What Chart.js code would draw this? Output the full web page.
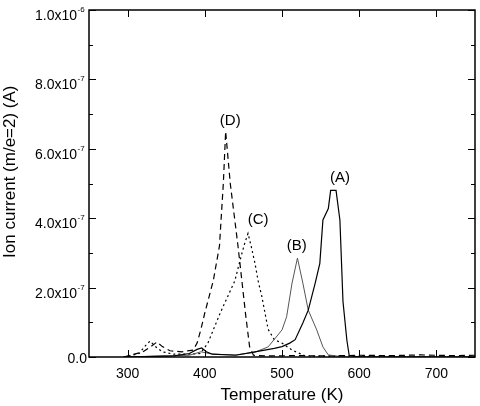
<!DOCTYPE html>
<html>
<head>
<meta charset="utf-8">
<script src="https://cdn.jsdelivr.net/npm/chart.js@4"></script>
<style>
  body { margin: 0; background: #fff; }
</style>
</head>
<body>
<canvas id="chart" width="480" height="406"></canvas>
<script>
// TPD curves, m/e=2 ion current vs temperature
const tempA = [295, 360, 380, 390, 396, 402, 410, 440, 465, 490, 500, 510, 517, 527, 534, 543, 549, 553, 560, 563, 570, 575, 579, 584, 587, 600, 750];
const ionA  = [0, 3e-9, 1e-8, 2.2e-8, 2.6e-8, 1.5e-8, 8e-9, 5e-9, 1.5e-8, 2.5e-8, 3e-8, 4e-8, 5e-8, 9.8e-8, 1.35e-7, 2.13e-7, 2.7e-7, 3.95e-7, 4.28e-7, 4.8e-7, 4.8e-7, 3.95e-7, 1.6e-7, 4.9e-8, 5e-9, 0, 0];

const tempB = [295, 380, 395, 410, 440, 465, 482, 500, 506, 513, 520, 527, 534, 545, 553, 560, 580, 750];
const ionB  = [0, 5e-9, 1.5e-8, 8e-9, 6e-9, 1.4e-8, 2.9e-8, 7.8e-8, 1.16e-7, 2.13e-7, 2.85e-7, 2.13e-7, 1.35e-7, 7.8e-8, 2.9e-8, 6e-9, 0, 0];

const tempC = [295, 315, 322, 329, 336, 345, 360, 380, 394, 404, 420, 439, 447, 452, 456, 460, 465, 469, 474, 482, 490, 500, 513, 530, 750];
const ionC  = [0, 1e-8, 3e-8, 4.6e-8, 3e-8, 1.5e-8, 8e-9, 8e-9, 1e-8, 4e-8, 1.27e-7, 2.2e-7, 2.9e-7, 3.3e-7, 3.56e-7, 3.2e-7, 2.7e-7, 2.2e-7, 1.73e-7, 8e-8, 5e-8, 4e-8, 2e-8, 3e-9, 0];

const tempD = [295, 320, 330, 338, 345, 355, 370, 385, 390, 395, 400, 411, 419, 424, 427, 433, 443, 448, 453, 458, 463, 480, 520, 560, 600, 640, 680, 720, 750];
const ionD  = [0, 1.5e-8, 3e-8, 4.3e-8, 3e-8, 1.8e-8, 1.5e-8, 2e-8, 4e-8, 8e-8, 1.27e-7, 2.2e-7, 3.2e-7, 5e-7, 6.5e-7, 5e-7, 3.2e-7, 2.2e-7, 1.2e-7, 3e-8, 5e-9, 3e-9, 4e-9, 3e-9, 5e-9, 4e-9, 6e-9, 4e-9, 5e-9];

const xTicks = [300, 400, 500, 600, 700];

// curve labels: text, temperature, current
const peakLabels = ['(A)', '(B)', '(C)', '(D)'];
const labelTemps = [575, 519, 469, 433];
const labelIons  = [5.16e-7, 3.2e-7, 3.95e-7, 6.8e-7];

const FONT = '"Liberation Sans", Arial, sans-serif';

function pts(xs, ys) {
  return xs.map((t, i) => ({ x: t, y: ys[i] }));
}

// frame, inward ticks, y tick labels with superscripts, peak labels
const decor = {
  id: 'decor',
  afterDraw(chart) {
    const { ctx, chartArea: { left, right, top, bottom }, scales: { x, y } } = chart;
    ctx.save();
    ctx.strokeStyle = '#000';
    ctx.lineWidth = 1.5;
    ctx.strokeRect(left, top, right - left, bottom - top);

    ctx.lineWidth = 1;
    ctx.beginPath();
    x.ticks.forEach(t => {
      const px = Math.round(x.getPixelForValue(t.value)) + 0.5;
      ctx.moveTo(px, bottom); ctx.lineTo(px, bottom - 7);
      ctx.moveTo(px, top); ctx.lineTo(px, top + 7);
    });
    y.ticks.forEach(t => {
      const py = Math.round(y.getPixelForValue(t.value)) + 0.5;
      ctx.moveTo(left, py); ctx.lineTo(left + 7, py);
      ctx.moveTo(right, py); ctx.lineTo(right - 7, py);
      const mv = t.value + 1e-7;
      if (mv < y.max) {
        const pm = Math.round(y.getPixelForValue(mv)) + 0.5;
        ctx.moveTo(left, pm); ctx.lineTo(left + 4, pm);
        ctx.moveTo(right, pm); ctx.lineTo(right - 4, pm);
      }
    });
    ctx.stroke();

    ctx.fillStyle = '#000';
    ctx.textBaseline = 'alphabetic';
    y.ticks.forEach(t => {
      const py = y.getPixelForValue(t.value);
      if (Math.abs(t.value) < 1e-12) {
        ctx.font = '14px ' + FONT;
        ctx.textAlign = 'right';
        ctx.fillText('0.0', left - 2, py + 6);
        return;
      }
      const [m, e] = t.value.toExponential(1).split('e');
      ctx.font = '14px ' + FONT;
      ctx.textAlign = 'right';
      ctx.fillText(m + 'x10', left - 12, py + 10);
      ctx.font = '8px ' + FONT;
      ctx.textAlign = 'left';
      ctx.fillText(String(parseInt(e, 10)), left - 11.5, py + 2);
    });

    ctx.font = '15px ' + FONT;
    ctx.textAlign = 'center';
    ctx.textBaseline = 'middle';
    peakLabels.forEach((txt, i) => {
      ctx.fillText(txt, x.getPixelForValue(labelTemps[i]), y.getPixelForValue(labelIons[i]));
    });
    ctx.restore();
  }
};

new Chart(document.getElementById('chart').getContext('2d'), {
  type: 'line',
  data: {
    datasets: [
      { data: pts(tempA, ionA), borderColor: '#000', borderWidth: 1.2 },
      { data: pts(tempB, ionB), borderColor: '#555', borderWidth: 1 },
      { data: pts(tempC, ionC), borderColor: '#000', borderWidth: 1.2, borderDash: [2, 3] },
      { data: pts(tempD, ionD), borderColor: '#000', borderWidth: 1.2, borderDash: [6, 4] }
    ]
  },
  options: {
    responsive: false,
    animation: false,
    devicePixelRatio: 1,
    layout: { padding: { top: 10, right: 5, left: 0, bottom: 0 } },
    elements: { point: { radius: 0 }, line: { tension: 0, fill: false } },
    plugins: { legend: { display: false }, tooltip: { enabled: false } },
    scales: {
      x: {
        type: 'linear',
        min: 250,
        max: 750,
        afterBuildTicks: s => { s.ticks = xTicks.map(v => ({ value: v })); },
        afterFit: s => { s.height = 49; },
        grid: { display: false },
        border: { display: false },
        ticks: { padding: 1, color: '#000', font: { family: FONT, size: 14 } },
        title: { display: true, text: 'Temperature (K)', color: '#000', padding: 0, font: { family: FONT, size: 17 } }
      },
      y: {
        type: 'linear',
        min: 0,
        max: 1e-6,
        afterFit: s => { s.width = 89; },
        grid: { display: false },
        border: { display: false },
        ticks: { stepSize: 2e-7, display: false },
        title: { display: true, text: '     Ion current (m/e=2) (A)', color: '#000', padding: 0, font: { family: FONT, size: 17 } }
      }
    }
  },
  plugins: [decor]
});
</script>
</body>
</html>
